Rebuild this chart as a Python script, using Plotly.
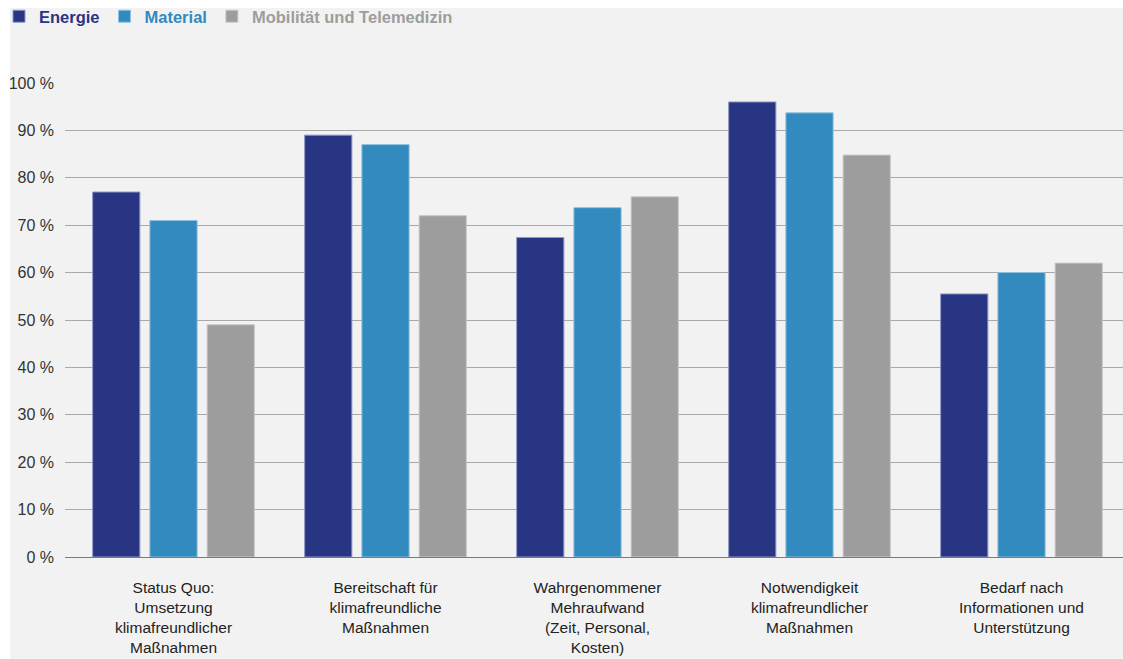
import plotly.graph_objects as go

categories = [
    "Status Quo:<br>Umsetzung<br>klimafreundlicher<br>Maßnahmen",
    "Bereitschaft für<br>klimafreundliche<br>Maßnahmen",
    "Wahrgenommener<br>Mehraufwand<br>(Zeit, Personal,<br>Kosten)",
    "Notwendigkeit<br>klimafreundlicher<br>Maßnahmen",
    "Bedarf nach<br>Informationen und<br>Unterstützung",
]
energie = [77, 89, 67.4, 96, 55.5]
material = [71, 87, 73.7, 93.7, 60]
mobilitaet = [49, 72, 76, 84.8, 62]
series_names = ["Energie", "Material", "Mobilität und Telemedizin"]
colors = ["#283583", "#328abf", "#9d9d9d"]
edge_colors = ["#8f97c4", "#8fc0e0", "#c8c8c8"]
tick_vals = [0, 10, 20, 30, 40, 50, 60, 70, 80, 90, 100]
tick_text = [f"{v} %" for v in tick_vals]

W, H = 1123, 659
ml, mr, mt, mb = 65, 0, 83, 102
pw, ph = W - ml - mr, H - mt - mb

fig = go.Figure()
for name, vals, c, ec in zip(series_names, [energie, material, mobilitaet], colors, edge_colors):
    fig.add_trace(go.Bar(
        x=categories, y=vals,
        name=f"<b><span style='color:{c}'>{name}</span></b>",
        marker=dict(color=c, line=dict(color=ec, width=1)),
    ))

def px_x(p):
    return (p - ml) / pw

def px_y(p):
    return (H - mb - p) / ph

fig.update_layout(
    width=W, height=H,
    margin=dict(l=ml, r=mr, t=mt, b=mb, autoexpand=False),
    paper_bgcolor="#f2f2f2", plot_bgcolor="#f2f2f2",
    barmode="group", bargap=0.19, bargroupgap=0.175,
    font=dict(family="Liberation Sans, Arial, sans-serif", size=16, color="#333333"),
    showlegend=True,
    legend=dict(orientation="h", x=px_x(-1), xanchor="left", y=px_y(-1), yanchor="top",
                bgcolor="rgba(0,0,0,0)", font=dict(size=16.5), traceorder="normal",
                itemwidth=30),
    xaxis=dict(showgrid=False, showline=False, ticks="", ticklabelstandoff=19,
               automargin=False, range=[-0.5118, 4.4788],
               tickfont=dict(size=15.5, color="#222222")),
    yaxis=dict(range=[0, 100], tickvals=tick_vals, ticktext=tick_text, automargin=False,
               showgrid=True, gridcolor="#a8a8a8", gridwidth=1,
               zeroline=True, zerolinecolor="#7a7a7a", zerolinewidth=1,
               showline=False, ticks="", ticklabelstandoff=10,
               tickfont=dict(size=16, color="#333333")),
    shapes=[
        dict(type="rect", xref="paper", yref="paper", x0=px_x(0), x1=px_x(W), y0=px_y(0), y1=px_y(8),
             fillcolor="white", line=dict(width=0), layer="above"),
        dict(type="rect", xref="paper", yref="paper", x0=px_x(0), x1=px_x(10), y0=px_y(0), y1=px_y(H),
             fillcolor="white", line=dict(width=0), layer="above"),
    ],
)

fig.write_html("out.html")
